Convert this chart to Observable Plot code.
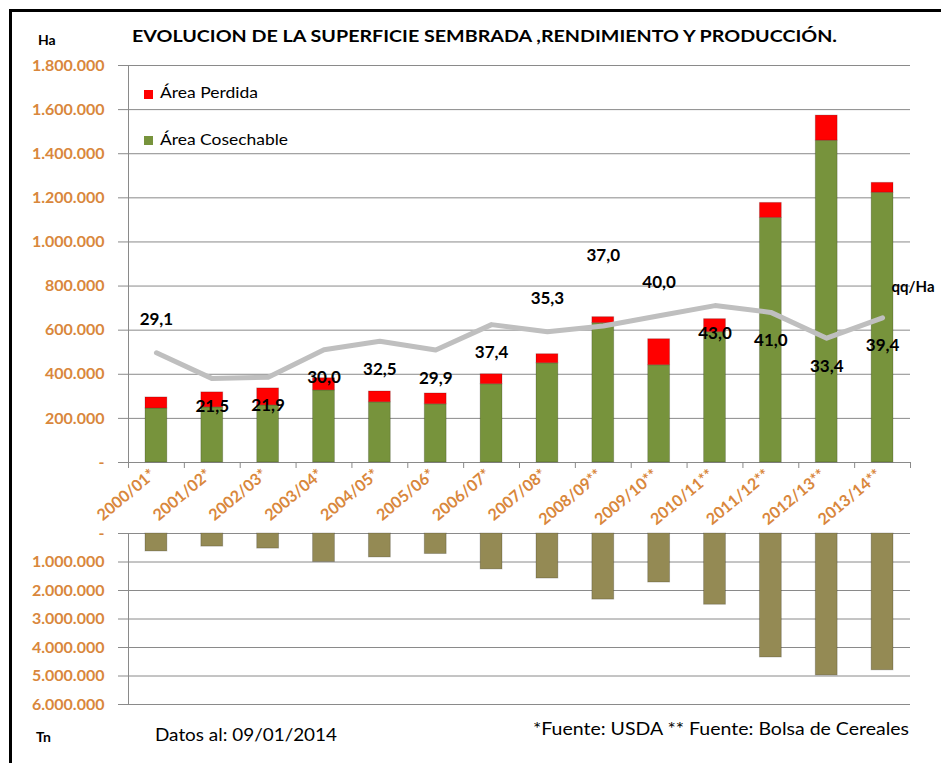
<!DOCTYPE html>
<html>
<head>
<meta charset="utf-8">
<script src="https://cdn.jsdelivr.net/npm/d3@7"></script>
<script src="https://cdn.jsdelivr.net/npm/@observablehq/plot@0.6"></script>
<style>
  body { margin: 0; background: #fff; }
  #wrap { position: relative; width: 941px; height: 763px; overflow: hidden; background: #fff; font-family: Lato, sans-serif; }
  #frame { position: absolute; left: 9px; top: 9px; width: 1000px; height: 1000px; border: 3px solid #000; }
  #top, #bot, #ov { position: absolute; left: 0; }
  #top { top: 0; }
  #bot { top: 500px; }
  #ov { top: 0; pointer-events: none; }
</style>
</head>
<body>
<div id="wrap">
  <div id="frame"></div>
  <div id="top"></div>
  <div id="bot"></div>
  <svg id="ov" width="941" height="763"></svg>
</div>
<script>
// ---------------- DATA ----------------
const seasons = ["2000/01*", "2001/02*", "2002/03*", "2003/04*", "2004/05*", "2005/06*", "2006/07*",
  "2007/08*", "2008/09**", "2009/10**", "2010/11**", "2011/12**", "2012/13**", "2013/14**"];
const areaCosechable = [245000, 250000, 259000, 327000, 273000, 264000, 355000, 450000, 632000, 441000, 591000, 1109000, 1459000, 1223000];
const areaPerdida = [50000, 68000, 77000, 55000, 49000, 49000, 45000, 41000, 27000, 118000, 59000, 68000, 114000, 45000];
const rendimiento = [29.1, 21.5, 21.9, 30.0, 32.5, 29.9, 37.4, 35.3, 37.0, 40.0, 43.0, 41.0, 33.4, 39.4];
const produccion = [630000, 460000, 530000, 1000000, 840000, 720000, 1260000, 1580000, 2320000, 1720000, 2500000, 4350000, 4980000, 4800000];
const haTicks = [0, 200000, 400000, 600000, 800000, 1000000, 1200000, 1400000, 1600000, 1800000];
const tnTicks = [0, 1000000, 2000000, 3000000, 4000000, 5000000, 6000000];
const seriesNames = ["Área Cosechable", "Área Perdida"];
// hidden secondary axis of the yield (qq/Ha)
const yieldAxisDomain = [-3.2, 113.7];
// label placement of the yield data labels
const yieldLabelPlacement = ["above", "below", "below", "below", "below", "below", "below",
  "above", "high", "above", "below", "below", "below", "below"];

// ---------------- BUILD ----------------
const gray = "#8a8a8a";
const orange = "#D9873C";
const font = "Lato, sans-serif";
const n = seasons.length;
const xDom = [0, n];
const locale = d3.formatLocale({decimal: ",", thousands: ".", grouping: [3], currency: ["$", ""]});
const fmt = d => d === 0 ? "-" : locale.format(",")(d);
const fmtYield = locale.format(".1f");
const yieldToHa = d3.scaleLinear().domain(yieldAxisDomain).range([0, 1800000]);

const rows = seasons.map((s, i) => ({i, season: s, c: areaCosechable[i], p: areaPerdida[i], yld: rendimiento[i], prod: produccion[i], place: yieldLabelPlacement[i]}));
const areaRows = [];
rows.forEach(r => {
  areaRows.push({i: r.i, series: seriesNames[0], y1: 0, y2: r.c});
  areaRows.push({i: r.i, series: seriesNames[1], y1: r.c, y2: r.c + r.p});
});

const dyMap = {above: -33, below: 28, high: -70};
const labelMarks = Object.keys(dyMap).map(k =>
  Plot.text(rows.filter(r => r.place === k), {
    x: d => d.i + 0.5, y: d => yieldToHa(d.yld), text: d => fmtYield(d.yld),
    dy: dyMap[k], fontWeight: "bold", fontSize: 17, fill: "#000"
  })
);

const topPlot = Plot.plot({
  width: 941, height: 533,
  marginLeft: 128, marginRight: 31, marginTop: 65, marginBottom: 71,
  style: {background: "transparent", fontFamily: font, overflow: "visible"},
  x: {domain: xDom, axis: null, label: null},
  y: {domain: [0, 1800000], axis: null, label: null},
  color: {domain: seriesNames, range: ["#77933C", "#FF0000"]},
  marks: [
    Plot.gridY({ticks: haTicks, stroke: gray, strokeOpacity: 1}),
    Plot.axisY({ticks: haTicks, tickSize: 10, tickPadding: 14, stroke: gray, tickFormat: fmt,
      fill: orange, fontWeight: "bold", fontSize: 16, label: null}),
    Plot.ruleX([0], {stroke: gray}),
    Plot.axisX({ticks: d3.range(n + 1), tickSize: 6, stroke: gray, tickFormat: () => "", label: null}),
    Plot.rectY(areaRows, {x1: "i", x2: d => d.i + 1, y1: "y1", y2: "y2", fill: "series",
      insetLeft: 17, insetRight: 17, stroke: "#000", strokeOpacity: 0.18, strokeWidth: 1}),
    Plot.line(rows, {x: d => d.i + 0.5, y: d => yieldToHa(d.yld), stroke: "#BFBFBF", strokeWidth: 5}),
    ...labelMarks,
    Plot.text([rows[n - 1]], {x: d => d.i + 0.5, y: d => yieldToHa(d.yld), text: () => "qq/Ha",
      dx: 9, dy: -31, textAnchor: "start", fontWeight: "bold", fontSize: 15, fill: "#000"}),
    Plot.text(rows, {x: d => d.i + 0.5, frameAnchor: "bottom", dy: 14, dx: 0, text: "season",
      rotate: -40, textAnchor: "end", fill: orange, fontWeight: "bold", fontSize: 16})
  ]
});
document.getElementById("top").append(topPlot);

const botPlot = Plot.plot({
  width: 941, height: 263,
  marginLeft: 128, marginRight: 31, marginTop: 33, marginBottom: 59,
  style: {background: "transparent", fontFamily: font, overflow: "visible"},
  x: {domain: xDom, axis: null, label: null},
  y: {domain: [0, 6000000], reverse: true, axis: null, label: null},
  marks: [
    Plot.gridY({ticks: tnTicks, stroke: gray, strokeOpacity: 1}),
    Plot.axisY({ticks: tnTicks, tickSize: 10, tickPadding: 14, stroke: gray, tickFormat: fmt,
      fill: orange, fontWeight: "bold", fontSize: 16, label: null}),
    Plot.ruleX([0], {stroke: gray}),
    Plot.rectY(rows, {x1: "i", x2: d => d.i + 1, y1: 0, y2: "prod", fill: "#948A54",
      insetLeft: 17, insetRight: 17, stroke: "#000", strokeOpacity: 0.2, strokeWidth: 1})
  ]
});
document.getElementById("bot").append(botPlot);

// ---------------- TEXT OVERLAY ----------------
const ov = d3.select("#ov");
function txt(x, y, s, size, weight, len, fill = "#000") {
  const t = ov.append("text").attr("x", x).attr("y", y).attr("font-family", font)
    .attr("font-size", size).attr("font-weight", weight).attr("fill", fill).text(s);
  if (len) t.attr("textLength", len).attr("lengthAdjust", "spacingAndGlyphs");
  return t;
}
txt(132, 42, "EVOLUCION DE LA SUPERFICIE SEMBRADA ,RENDIMIENTO Y PRODUCCIÓN.", 17, "bold", 705);
txt(38, 45, "Ha", 14, "bold");
txt(36, 742, "Tn", 14, "bold");
txt(155, 741, "Datos al: 09/01/2014", 17, "normal", 182);
txt(533, 735, "*Fuente: USDA ** Fuente: Bolsa de Cereales", 17, "normal", 376);
// legend
ov.append("rect").attr("x", 144).attr("y", 90).attr("width", 9).attr("height", 9).attr("fill", "#FF0000");
txt(160, 98, seriesNames[1], 15, "normal", 98);
ov.append("rect").attr("x", 144).attr("y", 136).attr("width", 9).attr("height", 9).attr("fill", "#77933C");
txt(160, 145, seriesNames[0], 15, "normal", 128);
</script>
</body>
</html>
